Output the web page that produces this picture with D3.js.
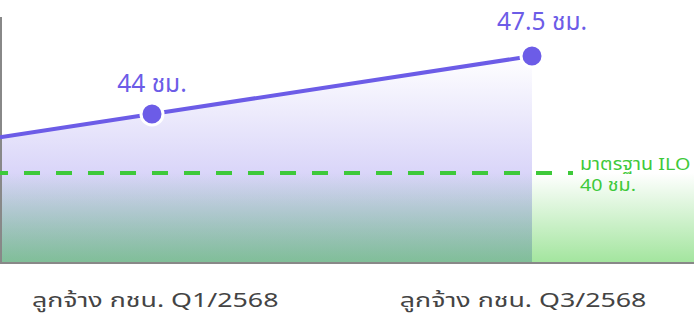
<!DOCTYPE html>
<html>
<head>
<meta charset="utf-8">
<script src="https://cdn.jsdelivr.net/npm/d3@7"></script>
<style>
  body { margin: 0; background: #fff; }
  text { font-family: "Noto Sans Thai", "Noto Sans", sans-serif; }
</style>
</head>
<body>
<div id="chart"></div>
<script>
// hours worked per week, private-sector employees
var categories = ["ลูกจ้าง กชน. Q1/2568", "ลูกจ้าง กชน. Q3/2568"];
var hours = [44, 47.5];
var pointLabels = ["44 ชม.", "47.5 ชม."];
var iloStandard = 40;
var iloLabel = ["มาตรฐาน ILO", "40 ชม."];

var width = 694, height = 320;
var plotBottom = 262, plotTop = 17;

var purple = "#6c5ce7", green = "#3ec93a";

var svg = d3.select("#chart").append("svg")
  .attr("width", width)
  .attr("height", height);

var x = d3.scalePoint()
  .domain(categories)
  .range([152, 532]);

// the picture is not drawn to scale, so the y scale is piecewise
var y = d3.scaleLinear()
  .domain([iloStandard, 44, 47.5])
  .range([173, 114, 56]);

var defs = svg.append("defs");

var gp = defs.append("linearGradient")
  .attr("id", "purpleFill")
  .attr("x1", 0).attr("y1", 0).attr("x2", 0).attr("y2", 1);
gp.append("stop").attr("offset", "0%").attr("stop-color", purple).attr("stop-opacity", 0);
gp.append("stop").attr("offset", "100%").attr("stop-color", purple).attr("stop-opacity", 0.45);

var gg = defs.append("linearGradient")
  .attr("id", "greenFill")
  .attr("x1", 0).attr("y1", 0).attr("x2", 0).attr("y2", 1);
gg.append("stop").attr("offset", "0%").attr("stop-color", "#3cc832").attr("stop-opacity", 0);
gg.append("stop").attr("offset", "100%").attr("stop-color", "#3cc832").attr("stop-opacity", 0.47);

// line points, extended back to the left edge with the same slope
var pts = categories.map(function(c, i) { return [x(c), y(hours[i])]; });
var slope = (pts[1][1] - pts[0][1]) / (pts[1][0] - pts[0][0]);
var linePts = [[0, pts[0][1] - slope * pts[0][0]]].concat(pts);

// purple area under the line
svg.append("path")
  .datum(linePts)
  .attr("fill", "url(#purpleFill)")
  .attr("d", d3.area()
    .x(function(d) { return d[0]; })
    .y0(plotBottom)
    .y1(function(d) { return d[1]; }));

// green area under the ILO standard
svg.append("rect")
  .attr("x", 0)
  .attr("y", y(iloStandard))
  .attr("width", width)
  .attr("height", plotBottom - y(iloStandard))
  .attr("fill", "url(#greenFill)");

// axes
svg.append("line")
  .attr("x1", 1).attr("x2", 1)
  .attr("y1", plotTop).attr("y2", plotBottom)
  .attr("stroke", "#888").attr("stroke-width", 2);
svg.append("line")
  .attr("x1", 0).attr("x2", width)
  .attr("y1", plotBottom + 1).attr("y2", plotBottom + 1)
  .attr("stroke", "#888").attr("stroke-width", 2);

// ILO dashed line
svg.append("line")
  .attr("x1", 0).attr("x2", 573)
  .attr("y1", y(iloStandard)).attr("y2", y(iloStandard))
  .attr("stroke", green)
  .attr("stroke-width", 4)
  .attr("stroke-dasharray", "16,16")
  .attr("stroke-dashoffset", 8);

// the Thai glyphs in the original are wider, so stretch a little
svg.append("text")
  .attr("transform", "translate(580," + (y(iloStandard) - 3) + ") scale(1.16,1)")
  .attr("fill", green)
  .style("font-size", "17px")
  .selectAll("tspan")
  .data(iloLabel)
  .enter()
  .append("tspan")
  .attr("x", 0)
  .attr("y", function(d, i) { return i * 21; })
  .text(function(d) { return d; });

// the line itself
svg.append("path")
  .datum(linePts)
  .attr("fill", "none")
  .attr("stroke", purple)
  .attr("stroke-width", 4)
  .attr("d", d3.line());

svg.selectAll("circle.pt")
  .data(hours)
  .enter()
  .append("circle")
  .attr("class", "pt")
  .attr("cx", function(d, i) { return x(categories[i]); })
  .attr("cy", function(d) { return y(d); })
  .attr("r", 11)
  .attr("fill", purple)
  .attr("stroke", "#fff")
  .attr("stroke-width", 3);

svg.selectAll("text.val")
  .data(hours)
  .enter()
  .append("text")
  .attr("class", "val")
  .attr("x", function(d, i) { return x(categories[i]) + (i ? 10 : 0); })
  .attr("y", function(d, i) { return y(d) - (i ? 26 : 22); })
  .attr("text-anchor", "middle")
  .attr("fill", purple)
  .style("font-size", "24.5px")
  .text(function(d, i) { return pointLabels[i]; });

// category labels
var xAxis = svg.append("g")
  .attr("transform", "translate(0," + plotBottom + ")")
  .call(d3.axisBottom(x).tickSize(0).tickPadding(31));
xAxis.select(".domain").remove();
xAxis.selectAll("text")
  .attr("fill", "#444")
  .attr("x", function(d, i) { return i ? -7 : 2; })
  .attr("transform", "scale(1.34,1)")
  .style("font-size", "20px");
</script>
</body>
</html>
